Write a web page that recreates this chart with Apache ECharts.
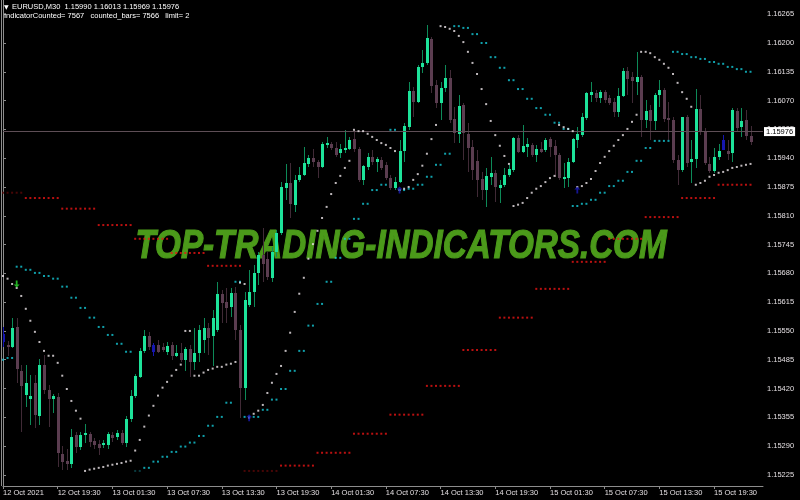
<!DOCTYPE html>
<html>
<head>
<meta charset="utf-8">
<script src="https://cdn.jsdelivr.net/npm/echarts@6/dist/echarts.min.js"></script>
<style>
  html, body { margin: 0; padding: 0; background: #000; }
  #chart { width: 800px; height: 500px; }
</style>
</head>
<body>
<div id="chart"></div>
<script>
// EURUSD M30, bars from 12 Oct 13:30 to 15 Oct 23:30
const opens = [
  1.15543, 1.15519, 1.15514, 1.15559, 1.15460, 1.15406, 1.15397, 1.15433, 1.15359, 1.15474,
  1.15417, 1.15397, 1.15401, 1.15273, 1.15257, 1.15250, 1.15316, 1.15289, 1.15316, 1.15318,
  1.15302, 1.15295, 1.15293, 1.15293, 1.15316, 1.15311, 1.15320, 1.15298, 1.15352, 1.15404,
  1.15446, 1.15505, 1.15539, 1.15519, 1.15519, 1.15514, 1.15503, 1.15519, 1.15494, 1.15501,
  1.15485, 1.15510, 1.15480, 1.15501, 1.15530, 1.15557, 1.15539, 1.15553, 1.15634, 1.15616,
  1.15604, 1.15636, 1.15553, 1.15422, 1.15609, 1.15638, 1.15681, 1.15722, 1.15713, 1.15670,
  1.15728, 1.15771, 1.15873, 1.15884, 1.15835, 1.15891, 1.15902, 1.15927, 1.15941, 1.15932,
  1.15920, 1.15970, 1.15972, 1.15963, 1.15952, 1.15959, 1.15961, 1.15983, 1.15961, 1.15891,
  1.15920, 1.15943, 1.15932, 1.15936, 1.15925, 1.15895, 1.15873, 1.15886, 1.15956, 1.16010,
  1.16092, 1.16067, 1.16146, 1.16155, 1.16209, 1.16105, 1.16065, 1.16098, 1.16121, 1.16029,
  1.15995, 1.16060, 1.15995, 1.15965, 1.15934, 1.15893, 1.15868, 1.15898, 1.15907, 1.15873,
  1.15880, 1.15902, 1.15913, 1.15986, 1.15954, 1.15965, 1.15970, 1.15947, 1.15961, 1.15959,
  1.15983, 1.15968, 1.15947, 1.15893, 1.15895, 1.15932, 1.15981, 1.15992, 1.16031, 1.16083,
  1.16087, 1.16076, 1.16089, 1.16076, 1.16067, 1.16044, 1.16080, 1.16137, 1.16123, 1.16112,
  1.16123, 1.16026, 1.16049, 1.16024, 1.16083, 1.16094, 1.16031, 1.16026, 1.15936, 1.15913,
  1.16033, 1.15932, 1.15938, 1.16051, 1.15999, 1.15927, 1.15911, 1.15943, 1.15959, 1.15956,
  1.15952, 1.16047, 1.16010, 1.16026, 1.15990
];
const highs = [
  1.15559, 1.15528, 1.15580, 1.15580, 1.15474, 1.15474, 1.15451, 1.15451, 1.15487, 1.15496,
  1.15428, 1.15408, 1.15410, 1.15291, 1.15284, 1.15329, 1.15322, 1.15322, 1.15340, 1.15322,
  1.15309, 1.15304, 1.15304, 1.15322, 1.15322, 1.15327, 1.15327, 1.15359, 1.15417, 1.15453,
  1.15512, 1.15553, 1.15548, 1.15523, 1.15530, 1.15523, 1.15525, 1.15525, 1.15519, 1.15523,
  1.15514, 1.15519, 1.15557, 1.15564, 1.15580, 1.15568, 1.15598, 1.15661, 1.15643, 1.15647,
  1.15647, 1.15650, 1.15564, 1.15638, 1.15688, 1.15699, 1.15728, 1.15783, 1.15728, 1.15740,
  1.15778, 1.15886, 1.15927, 1.15929, 1.15902, 1.15920, 1.15965, 1.15947, 1.15961, 1.15936,
  1.15977, 1.15988, 1.15977, 1.15977, 1.15972, 1.16004, 1.15988, 1.16004, 1.15965, 1.15925,
  1.15952, 1.15959, 1.15943, 1.15943, 1.15932, 1.15902, 1.15898, 1.15981, 1.16020, 1.16112,
  1.16101, 1.16150, 1.16184, 1.16241, 1.16214, 1.16117, 1.16112, 1.16150, 1.16139, 1.16056,
  1.16083, 1.16065, 1.16020, 1.15981, 1.15959, 1.15909, 1.15918, 1.15943, 1.15913, 1.15891,
  1.15918, 1.15925, 1.15988, 1.15992, 1.16015, 1.15986, 1.15974, 1.15970, 1.15977, 1.15986,
  1.15988, 1.15981, 1.15952, 1.15929, 1.15941, 1.15986, 1.16010, 1.16042, 1.16089, 1.16112,
  1.16094, 1.16094, 1.16094, 1.16083, 1.16076, 1.16098, 1.16144, 1.16146, 1.16135, 1.16180,
  1.16128, 1.16071, 1.16060, 1.16087, 1.16116, 1.16098, 1.16067, 1.16033, 1.15947, 1.16033,
  1.16038, 1.15981, 1.16096, 1.16083, 1.16008, 1.15943, 1.15963, 1.15972, 1.15992, 1.15981,
  1.16053, 1.16053, 1.16053, 1.16049, 1.16013
];
const lows = [
  1.15514, 1.15494, 1.15512, 1.15433, 1.15322, 1.15379, 1.15338, 1.15331, 1.15338, 1.15408,
  1.15334, 1.15365, 1.15243, 1.15237, 1.15237, 1.15241, 1.15275, 1.15282, 1.15298, 1.15289,
  1.15284, 1.15271, 1.15286, 1.15284, 1.15300, 1.15304, 1.15293, 1.15289, 1.15345, 1.15399,
  1.15444, 1.15501, 1.15507, 1.15494, 1.15501, 1.15503, 1.15496, 1.15485, 1.15492, 1.15480,
  1.15460, 1.15446, 1.15462, 1.15480, 1.15501, 1.15496, 1.15471, 1.15548, 1.15568, 1.15568,
  1.15582, 1.15530, 1.15354, 1.15395, 1.15604, 1.15604, 1.15654, 1.15661, 1.15665, 1.15661,
  1.15717, 1.15767, 1.15846, 1.15805, 1.15819, 1.15886, 1.15900, 1.15920, 1.15920, 1.15895,
  1.15918, 1.15963, 1.15959, 1.15943, 1.15941, 1.15952, 1.15959, 1.15954, 1.15886, 1.15880,
  1.15913, 1.15925, 1.15909, 1.15913, 1.15891, 1.15868, 1.15868, 1.15884, 1.15932, 1.16004,
  1.16033, 1.16065, 1.16132, 1.16150, 1.16087, 1.16053, 1.16026, 1.16089, 1.16020, 1.15974,
  1.15974, 1.15936, 1.15909, 1.15891, 1.15853, 1.15846, 1.15830, 1.15880, 1.15841, 1.15839,
  1.15875, 1.15898, 1.15909, 1.15952, 1.15952, 1.15943, 1.15943, 1.15932, 1.15952, 1.15954,
  1.15943, 1.15898, 1.15891, 1.15873, 1.15875, 1.15929, 1.15963, 1.15988, 1.16026, 1.16067,
  1.16067, 1.16065, 1.16065, 1.16060, 1.16033, 1.16033, 1.16078, 1.16083, 1.16065, 1.16083,
  1.15988, 1.16008, 1.15981, 1.16004, 1.16056, 1.16022, 1.15981, 1.15929, 1.15880, 1.15909,
  1.15920, 1.15884, 1.15918, 1.15992, 1.15925, 1.15907, 1.15907, 1.15936, 1.15959, 1.15936,
  1.15932, 1.15999, 1.15988, 1.15981, 1.15969
];
const closes = [
  1.15525, 1.15514, 1.15557, 1.15465, 1.15426, 1.15433, 1.15404, 1.15361, 1.15474, 1.15417,
  1.15397, 1.15404, 1.15275, 1.15255, 1.15250, 1.15311, 1.15289, 1.15316, 1.15320, 1.15300,
  1.15293, 1.15286, 1.15298, 1.15318, 1.15309, 1.15320, 1.15298, 1.15352, 1.15404, 1.15449,
  1.15505, 1.15539, 1.15514, 1.15503, 1.15503, 1.15507, 1.15516, 1.15494, 1.15501, 1.15485,
  1.15510, 1.15480, 1.15501, 1.15553, 1.15557, 1.15534, 1.15580, 1.15634, 1.15613, 1.15602,
  1.15636, 1.15553, 1.15422, 1.15620, 1.15638, 1.15681, 1.15722, 1.15701, 1.15672, 1.15728,
  1.15771, 1.15875, 1.15884, 1.15837, 1.15891, 1.15902, 1.15929, 1.15941, 1.15932, 1.15920,
  1.15972, 1.15974, 1.15963, 1.15947, 1.15961, 1.15963, 1.15981, 1.15961, 1.15891, 1.15923,
  1.15943, 1.15932, 1.15938, 1.15918, 1.15895, 1.15873, 1.15886, 1.15956, 1.16013, 1.16092,
  1.16067, 1.16146, 1.16155, 1.16211, 1.16103, 1.16065, 1.16098, 1.16121, 1.16026, 1.15997,
  1.16058, 1.15997, 1.15963, 1.15913, 1.15891, 1.15868, 1.15900, 1.15907, 1.15875, 1.15880,
  1.15902, 1.15916, 1.15986, 1.15954, 1.15968, 1.15972, 1.15947, 1.15961, 1.15954, 1.15981,
  1.15965, 1.15947, 1.15895, 1.15898, 1.15932, 1.15983, 1.15995, 1.16033, 1.16087, 1.16089,
  1.16076, 1.16089, 1.16071, 1.16065, 1.16044, 1.16080, 1.16137, 1.16119, 1.16114, 1.16123,
  1.16026, 1.16047, 1.16024, 1.16083, 1.16094, 1.16029, 1.16026, 1.15936, 1.15913, 1.16033,
  1.15929, 1.15938, 1.16051, 1.16001, 1.15929, 1.15911, 1.15943, 1.15956, 1.15981, 1.15950,
  1.16049, 1.16008, 1.16024, 1.15990, 1.15976
];
// bars painted blue by the indicator
const blueBars = [0, 33, 158];

// parabolic SAR, M30 (one dot per bar)
const sarM30 = [
  1.15674, 1.15668, 1.15656, 1.15647, 1.15629, 1.15600, 1.15573, 1.15548, 1.15525, 1.15505,
  1.15494, 1.15494, 1.15478, 1.15449, 1.15419, 1.15392, 1.15370, 1.15352, 1.15234, 1.15237,
  1.15239, 1.15241, 1.15243, 1.15246, 1.15248, 1.15250, 1.15252, 1.15255, 1.15257, 1.15280,
  1.15304, 1.15334, 1.15359, 1.15381, 1.15404, 1.15422, 1.15435, 1.15449, 1.15462, 1.15474,
  1.15550, 1.15550, 1.15449, 1.15449, 1.15456, 1.15462, 1.15465, 1.15469, 1.15469, 1.15474,
  1.15476, 1.15480, 1.15659, 1.15656, 1.15354, 1.15363, 1.15370, 1.15383, 1.15410, 1.15433,
  1.15453, 1.15471, 1.15505, 1.15546, 1.15593, 1.15634, 1.15670, 1.15713, 1.15746, 1.15776,
  1.15805, 1.15830, 1.15859, 1.15884, 1.15900, 1.15918, 1.15934, 1.16004, 1.16001, 1.16001,
  1.15995, 1.15988, 1.15981, 1.15974, 1.15970, 1.15963, 1.15956, 1.15868, 1.15871, 1.15875,
  1.15891, 1.15904, 1.15923, 1.15950, 1.15983, 1.16015, 1.16238, 1.16236, 1.16232, 1.16227,
  1.16216, 1.16202, 1.16180, 1.16155, 1.16130, 1.16096, 1.16062, 1.16024, 1.15992, 1.15968,
  1.15945, 1.15927, 1.15832, 1.15835, 1.15839, 1.15850, 1.15862, 1.15871, 1.15877, 1.15886,
  1.15895, 1.15900, 1.16015, 1.16010, 1.16006, 1.16001, 1.15875, 1.15877, 1.15884, 1.15893,
  1.15911, 1.15929, 1.15943, 1.15956, 1.15968, 1.15981, 1.15992, 1.16006, 1.16022, 1.16038,
  1.16180, 1.16180, 1.16177, 1.16168, 1.16162, 1.16153, 1.16144, 1.16130, 1.16110, 1.16089,
  1.16074, 1.16056, 1.15880, 1.15884, 1.15889, 1.15898, 1.15902, 1.15907, 1.15909, 1.15913,
  1.15918, 1.15920, 1.15923, 1.15925, 1.15927
];
// parabolic SAR, H1 (one value per two M30 bars, first pair starts at bar -1)
const sarH1 = [
  1.15485, 1.15489, 1.15695, 1.15688, 1.15681, 1.15674, 1.15668, 1.15650, 1.15625, 1.15602,
  1.15580, 1.15559, 1.15541, 1.15521, 1.15503, 1.15234, 1.15241, 1.15255, 1.15266, 1.15277,
  1.15289, 1.15298, 1.15313, 1.15336, 1.15356, 1.15388, 1.15661, 1.15356, 1.15356, 1.15372,
  1.15395, 1.15419, 1.15460, 1.15505, 1.15562, 1.15611, 1.15661, 1.15715, 1.15758, 1.15803,
  1.15837, 1.15868, 1.15880, 1.16004, 1.15868, 1.15871, 1.15880, 1.15898, 1.15925, 1.15950,
  1.16238, 1.16234, 1.16220, 1.16200, 1.16168, 1.16144, 1.16116, 1.16096, 1.16074, 1.16053,
  1.16038, 1.16020, 1.16006, 1.15832, 1.15837, 1.15846, 1.15862, 1.15877, 1.15889, 1.15909,
  1.15934, 1.15963, 1.15979, 1.15979, 1.16180, 1.16175, 1.16168, 1.16164, 1.16157, 1.16153,
  1.16146, 1.16141, 1.16135
];
const sarH1Dim = [15];
// parabolic SAR, H4 (one value per eight M30 bars, first block starts at bar -3)
const sarH4 = [
  1.15862, 1.15850, 1.15826, 1.15789, 1.15758, 1.15726, 1.15697, 1.15234, 1.15246, 1.15275,
  1.15318, 1.15361, 1.15426, 1.15507, 1.15580, 1.15645, 1.15706, 1.15758, 1.15807, 1.15850,
  1.15880
];
const sarH4Dim = [0, 7];

const buyArrows = [[54, 1.15354], [87, 1.15868], [126, 1.15868]];
const sellArrows = [[3, 1.15656]];

const bid = 1.15976;
const yTicks = [1.15225, 1.15290, 1.15355, 1.15420, 1.15485, 1.15550, 1.15615, 1.15680,
  1.15745, 1.15810, 1.15875, 1.15940, 1.16005, 1.16070, 1.16135, 1.16200, 1.16265];
const xTickBars = [0, 12, 24, 36, 48, 60, 72, 84, 96, 108, 120, 132, 144, 156];
const xTickLabels = ['12 Oct 2021', '12 Oct 19:30', '13 Oct 01:30', '13 Oct 07:30', '13 Oct 13:30',
  '13 Oct 19:30', '14 Oct 01:30', '14 Oct 07:30', '14 Oct 13:30', '14 Oct 19:30',
  '15 Oct 01:30', '15 Oct 07:30', '15 Oct 13:30', '15 Oct 19:30'];

const N = opens.length;
const FONT = '"Liberation Sans", "DejaVu Sans", sans-serif';
const FRAME = '#8c8c8c';

const candleData = opens.map((o, i) => [i, o, highs[i], lows[i], closes[i]]);
const m30Data = sarM30.map((v, i) => [i, v]);
const h1Data = [];
sarH1.forEach((v, k) => {
  [2 * k - 1, 2 * k].forEach(i => {
    if (i >= 0 && i < N) h1Data.push({ value: [i, v], itemStyle: sarH1Dim.includes(k) ? { color: '#0b4a50' } : undefined });
  });
});
const h4Data = [];
sarH4.forEach((v, m) => {
  for (let i = 8 * m - 3; i <= 8 * m + 4; i++) {
    if (i >= 0 && i < N) h4Data.push({ value: [i, v], itemStyle: sarH4Dim.includes(m) ? { color: '#5a0808' } : undefined });
  }
});

function renderCandle(params, api) {
  const i = api.value(0), o = api.value(1), h = api.value(2), l = api.value(3), c = api.value(4);
  const top = api.coord([i, Math.max(o, c)]);
  const bot = api.coord([i, Math.min(o, c)]);
  const hi = api.coord([i, h]);
  const lo = api.coord([i, l]);
  const x = Math.round(top[0]);
  let body, wick;
  if (blueBars.includes(i)) { body = '#1616b0'; wick = '#1616b0'; }
  else if (c >= o) { body = '#1de39a'; wick = '#0d8a58'; }
  else { body = '#5b3d50'; wick = '#402a36'; }
  const by = Math.round(top[1]);
  return {
    type: 'group',
    children: [
      { type: 'rect', shape: { x: x, y: Math.round(hi[1]), width: 1, height: Math.max(1, Math.round(lo[1] - hi[1])) }, style: { fill: wick } },
      { type: 'rect', shape: { x: x - 1, y: by, width: 3, height: Math.max(1, Math.round(bot[1]) - by) }, style: { fill: body } }
    ]
  };
}

const arrowUp = 'path://M5,0 L10,5 L6.5,5 L6.5,12 L3.5,12 L3.5,5 L0,5 Z';
const arrowDown = 'path://M3.5,0 L6.5,0 L6.5,7 L10,7 L5,12 L0,7 L3.5,7 Z';

const chart = echarts.init(document.getElementById('chart'));
chart.setOption({
  backgroundColor: '#000',
  animation: false,
  grid: { left: 2, right: 37, top: 0, bottom: 14 },
  xAxis: {
    type: 'value', min: 0, max: 166.74,
    splitLine: { show: false },
    axisLine: { lineStyle: { color: FRAME } },
    axisTick: { length: 3, customValues: xTickBars, lineStyle: { color: FRAME } },
    axisLabel: {
      customValues: xTickBars,
      formatter: v => { const k = xTickBars.indexOf(Math.round(v)); return k < 0 ? '' : xTickLabels[k]; },
      align: 'left', color: '#e2dde0', fontSize: 7.5, fontFamily: FONT, margin: 3
    }
  },
  yAxis: {
    type: 'value', position: 'right', min: 1.152, max: 1.16297, scale: true,
    splitLine: { show: false },
    axisLine: { show: true, lineStyle: { color: FRAME } },
    axisTick: { show: true, length: 3, customValues: yTicks, lineStyle: { color: FRAME } },
    axisLabel: {
      customValues: yTicks,
      formatter: v => v.toFixed(5),
      color: '#e2dde0', fontSize: 7.5, fontFamily: FONT, margin: 4
    }
  },
  series: [
    {
      type: 'custom', name: 'EURUSD', renderItem: renderCandle, data: candleData,
      encode: { x: 0, y: [1, 2, 3, 4] }, clip: true, z: 3
    },
    {
      type: 'scatter', name: 'SAR H4', data: h4Data, symbol: 'rect', symbolSize: 2,
      itemStyle: { color: '#e81414' }, z: 4, silent: true
    },
    {
      type: 'scatter', name: 'SAR H1', data: h1Data, symbol: 'rect', symbolSize: 2,
      itemStyle: { color: '#14c8d6' }, z: 4, silent: true
    },
    {
      type: 'scatter', name: 'SAR M30', data: m30Data, symbol: 'rect', symbolSize: 2,
      itemStyle: { color: '#eee6ea' }, z: 5, silent: true,
      markLine: {
        silent: true, symbol: ['none', 'none'], animation: false,
        lineStyle: { color: '#5e4e56', width: 1, type: 'solid' },
        label: {
          show: true, position: 'end', distance: 1, formatter: bid.toFixed(5),
          backgroundColor: '#ffffff', color: '#000', fontSize: 7.5, fontFamily: FONT,
          padding: [1, 2, 0, 2]
        },
        data: [{ yAxis: bid }]
      }
    },
    {
      type: 'scatter', name: 'buy', data: buyArrows, symbol: arrowUp, symbolSize: [6, 7],
      itemStyle: { color: '#1a1ab8' }, z: 6, silent: true
    },
    {
      type: 'scatter', name: 'sell', data: sellArrows, symbol: arrowDown, symbolSize: [6, 7],
      itemStyle: { color: '#2be02b' }, z: 6, silent: true
    }
  ],
  graphic: [
    { type: 'rect', shape: { x: 1, y: 0, width: 1, height: 486 }, style: { fill: FRAME }, z: 10 },
    {
      type: 'text', x: 401, y: 247, scaleX: 0.83, z: 0,
      style: {
        text: 'TOP-TRADING-INDICATORS.COM', font: 'italic bold 40px "Liberation Sans"',
        fill: '#4b9a1a', stroke: '#4b9a1a', lineWidth: 1.2, align: 'center', verticalAlign: 'middle'
      }
    },
    {
      type: 'text', x: 4, y: 7, z: 10,
      style: { text: '▼', font: '6px "DejaVu Sans"', fill: '#ffffff', verticalAlign: 'middle' }
    },
    {
      type: 'text', x: 12, y: 7, z: 10,
      style: { text: 'EURUSD,M30  1.15990 1.16013 1.15969 1.15976', font: '7.5px ' + FONT, fill: '#ffffff', verticalAlign: 'middle' }
    },
    {
      type: 'text', x: 4, y: 15.5, z: 10,
      style: { text: 'IndicatorCounted= 7567   counted_bars= 7566   limit= 2', font: '7.5px ' + FONT, fill: '#ffffff', verticalAlign: 'middle' }
    }
  ]
});
</script>
</body>
</html>
